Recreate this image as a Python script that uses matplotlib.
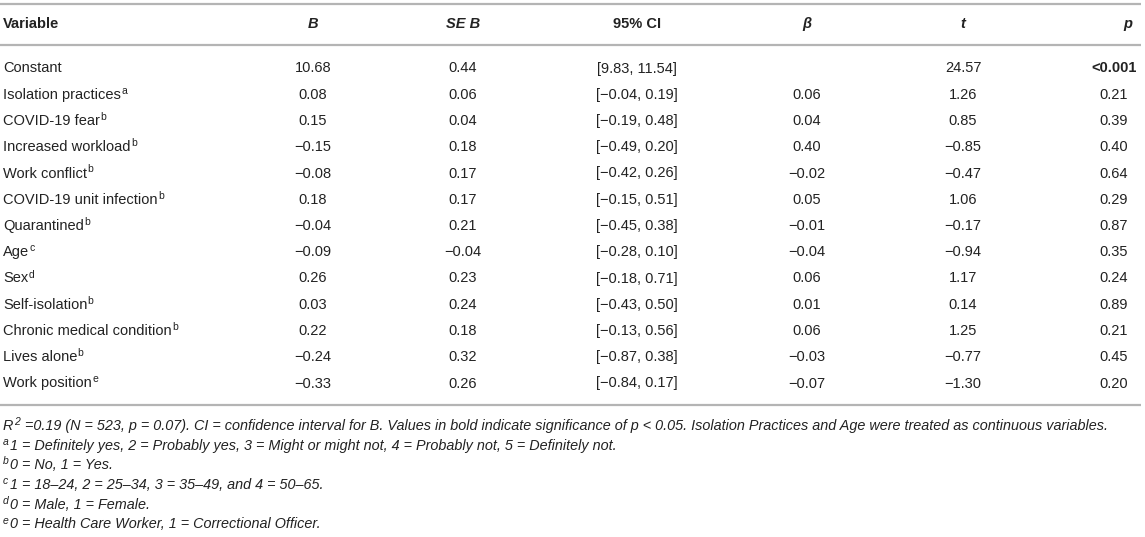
import matplotlib
matplotlib.use("Agg")
import matplotlib.pyplot as plt

plt.rcParams['font.family'] = ['Liberation Sans', 'DejaVu Sans']

# table data
variables = ["Constant", "Isolation practices", "COVID-19 fear", "Increased workload",
             "Work conflict", "COVID-19 unit infection", "Quarantined", "Age", "Sex",
             "Self-isolation", "Chronic medical condition", "Lives alone", "Work position"]
notes = ["", "a", "b", "b", "b", "b", "b", "c", "d", "b", "b", "b", "e"]
B = ["10.68", "0.08", "0.15", "−0.15", "−0.08", "0.18", "−0.04", "−0.09", "0.26",
     "0.03", "0.22", "−0.24", "−0.33"]
SE_B = ["0.44", "0.06", "0.04", "0.18", "0.17", "0.17", "0.21", "−0.04", "0.23",
        "0.24", "0.18", "0.32", "0.26"]
CI = ["[9.83, 11.54]", "[−0.04, 0.19]", "[−0.19, 0.48]", "[−0.49, 0.20]", "[−0.42, 0.26]",
      "[−0.15, 0.51]", "[−0.45, 0.38]", "[−0.28, 0.10]", "[−0.18, 0.71]", "[−0.43, 0.50]",
      "[−0.13, 0.56]", "[−0.87, 0.38]", "[−0.84, 0.17]"]
beta = ["", "0.06", "0.04", "0.40", "−0.02", "0.05", "−0.01", "−0.04", "0.06",
        "0.01", "0.06", "−0.03", "−0.07"]
t = ["24.57", "1.26", "0.85", "−0.85", "−0.47", "1.06", "−0.17", "−0.94", "1.17",
     "0.14", "1.25", "−0.77", "−1.30"]
p = ["<0.001", "0.21", "0.39", "0.40", "0.64", "0.29", "0.87", "0.35", "0.24",
     "0.89", "0.21", "0.45", "0.20"]

# footnotes as (prefix, superscript, text)
footnotes = [
    ("R", "2", " =0.19 (N = 523, p = 0.07). CI = confidence interval for B. "
     "Values in bold indicate significance of p < 0.05. Isolation Practices and Age were treated as continuous variables."),
    ("", "a", "1 = Definitely yes, 2 = Probably yes, 3 = Might or might not, 4 = Probably not, 5 = Definitely not."),
    ("", "b", "0 = No, 1 = Yes."),
    ("", "c", "1 = 18–24, 2 = 25–34, 3 = 35–49, and 4 = 50–65."),
    ("", "d", "0 = Male, 1 = Female."),
    ("", "e", "0 = Health Care Worker, 1 = Correctional Officer."),
]

fig = plt.figure(figsize=(11.45, 5.37), dpi=100)
ax = fig.add_axes([0, 0, 1, 1])
ax.set_xlim(0, 1145)
ax.set_ylim(537, 0)
ax.axis('off')
renderer = fig.canvas.get_renderer()

txt = '#222222'
line_c = '#b4b4b4'
fs = 10.5
ffs = 10.4
sfs = 7.5
x0 = 3


def right_edge(artist):
    bb = artist.get_window_extent(renderer=renderer)
    return ax.transData.inverted().transform((bb.x1, bb.y0))[0]


for y in (4, 44.5, 405):
    ax.plot([0, 1141], [y, y], color=line_c, lw=1.6, solid_capstyle='butt')

# header
hy = 28
hkw = dict(va='baseline', fontsize=fs, fontweight='bold', color=txt)
ax.text(x0, hy, "Variable", ha='left', **hkw)
ax.text(313, hy, "B", ha='center', style='italic', **hkw)
ax.text(463, hy, "SE B", ha='center', style='italic', **hkw)
ax.text(637, hy, "95% CI", ha='center', **hkw)
ax.text(807, hy, "β", ha='center', style='italic', **hkw)
ax.text(963, hy, "t", ha='center', style='italic', **hkw)
ax.text(1128, hy, "p", ha='center', style='italic', **hkw)

# body rows
for i, name in enumerate(variables):
    y = 72.5 + i * 26.25
    kw = dict(va='baseline', fontsize=fs, color=txt)
    lab = ax.text(x0, y, name, ha='left', **kw)
    if notes[i]:
        ax.text(right_edge(lab) + 0.3, y - 5, notes[i], ha='left', va='baseline',
                fontsize=sfs, color=txt)
    ax.text(313, y, B[i], ha='center', **kw)
    ax.text(463, y, SE_B[i], ha='center', **kw)
    ax.text(637, y, CI[i], ha='center', **kw)
    ax.text(807, y, beta[i], ha='center', **kw)
    ax.text(963, y, t[i], ha='center', **kw)
    bold = 'bold' if p[i].startswith('<') else 'normal'
    ax.text(1114, y, p[i], ha='center', fontweight=bold, **kw)

# footnotes
for j, (pre, sup, body) in enumerate(footnotes):
    y = 430 + j * 19.7
    kw = dict(va='baseline', style='italic', color=txt)
    x = x0
    if pre:
        a = ax.text(x, y, pre, ha='left', fontsize=ffs, **kw)
        x = right_edge(a) + 0.5
    s = ax.text(x, y - 5, sup, ha='left', fontsize=sfs, **kw)
    x = right_edge(s) + 1.5
    ax.text(x, y, body, ha='left', fontsize=ffs, **kw)

fig.savefig("out.png", dpi=100)
